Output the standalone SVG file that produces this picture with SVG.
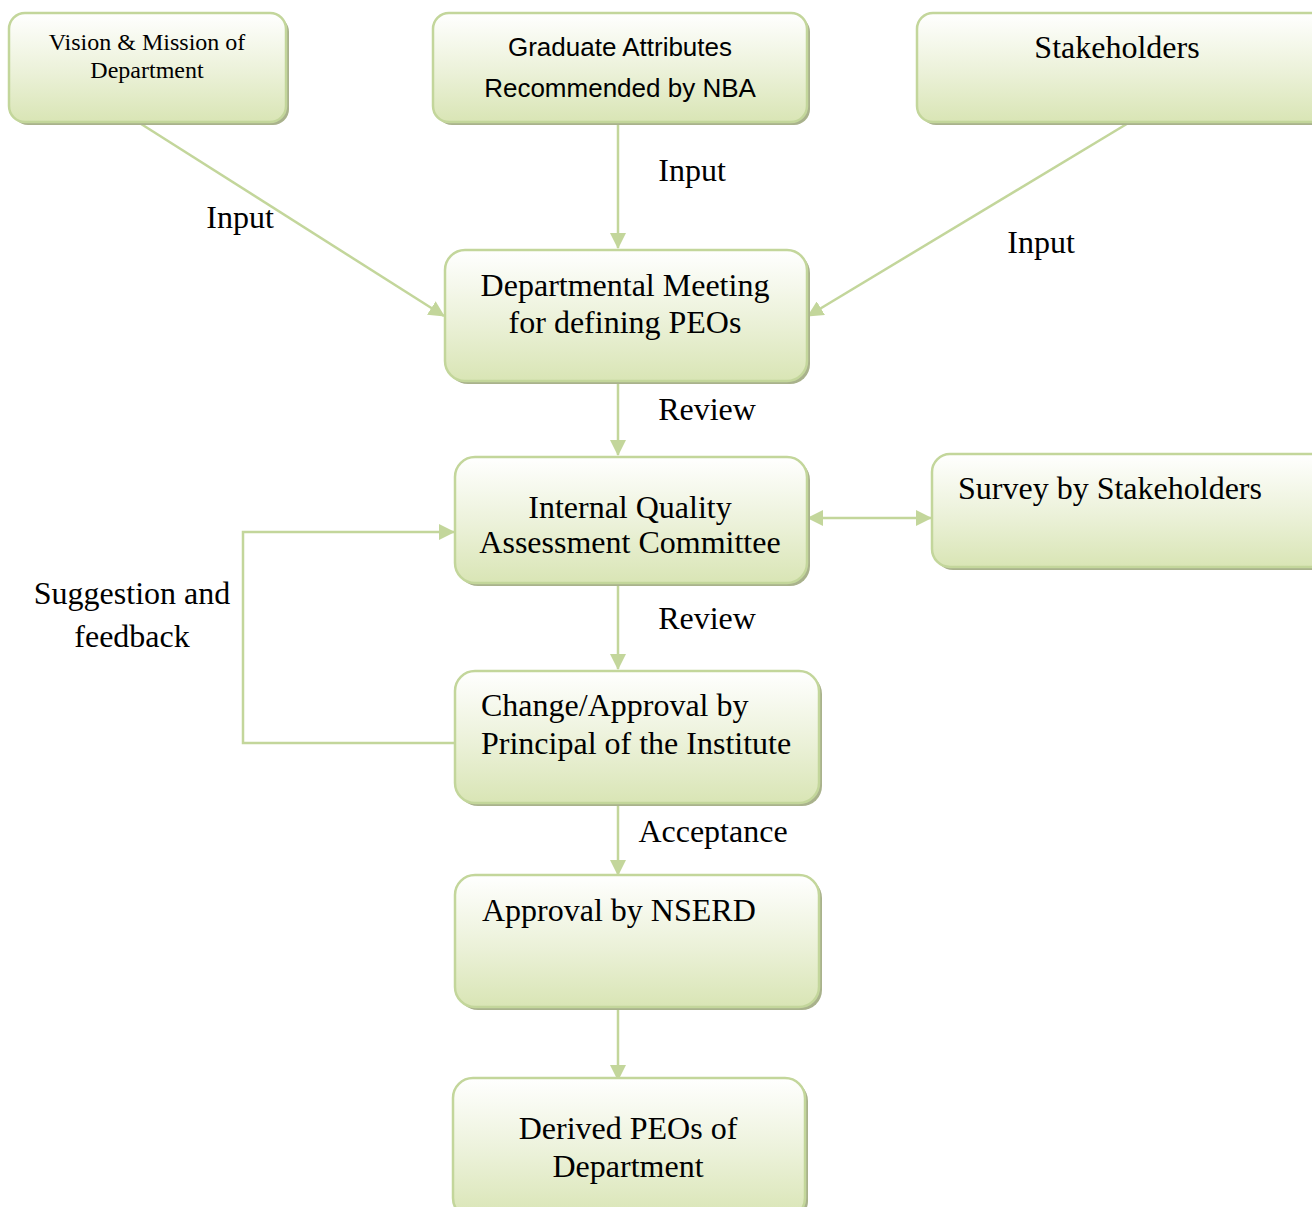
<svg xmlns="http://www.w3.org/2000/svg" width="1312" height="1207" viewBox="0 0 1312 1207">
<defs>
<linearGradient id="g" x1="0" y1="0" x2="0" y2="1">
<stop offset="0" stop-color="#ffffff"/>
<stop offset="0.55" stop-color="#ebf1d8"/>
<stop offset="1" stop-color="#d9e5b5"/>
</linearGradient>
<marker id="ah" markerUnits="userSpaceOnUse" markerWidth="16" markerHeight="16" viewBox="0 0 16 16" refX="15" refY="8" orient="auto-start-reverse">
<path d="M0,0 L16,8 L0,16 Z" fill="#c3d69b"/>
</marker>
<style>
.box{fill:url(#g);stroke:#c3d69b;stroke-width:2.5}
.sh{fill:#a9b28c}
.t{font-family:"Liberation Serif","Times New Roman",serif;font-size:32px;fill:#000}
.ts{font-family:"Liberation Serif","Times New Roman",serif;font-size:24px;fill:#000}
.c{font-family:"Liberation Sans",Arial,sans-serif;font-size:26px;fill:#000}
.m{text-anchor:middle}
.ln{fill:none;stroke:#c3d69b;stroke-width:2.5}
</style>
</defs>
<g id="connectors">
<line class="ln" x1="138" y1="122" x2="444" y2="316" marker-end="url(#ah)"/>
<line class="ln" x1="618" y1="123" x2="618" y2="248" marker-end="url(#ah)"/>
<line class="ln" x1="1130" y1="122" x2="808" y2="316" marker-end="url(#ah)"/>
<line class="ln" x1="618" y1="382" x2="618" y2="455" marker-end="url(#ah)"/>
<line class="ln" x1="808" y1="518" x2="931" y2="518" marker-start="url(#ah)" marker-end="url(#ah)"/>
<line class="ln" x1="618" y1="585" x2="618" y2="669" marker-end="url(#ah)"/>
<line class="ln" x1="618" y1="804" x2="618" y2="875" marker-end="url(#ah)"/>
<line class="ln" x1="618" y1="1008" x2="618" y2="1080" marker-end="url(#ah)"/>
<polyline class="ln" points="455,743 243,743 243,532 454,532" marker-end="url(#ah)"/>
<text class="t m" x="240" y="228">Input</text>
<text class="t m" x="692" y="181">Input</text>
<text class="t m" x="1041" y="253">Input</text>
<text class="t m" x="707" y="420">Review</text>
<text class="t m" x="707" y="629">Review</text>
<text class="t m" x="713" y="842">Acceptance</text>
<text class="t m" x="132" y="604">Suggestion and</text>
<text class="t m" x="132" y="647">feedback</text>
</g>
<g id="n1">
<rect class="sh" x="12" y="16" width="277" height="109" rx="16"/>
<rect class="box" x="9" y="13" width="277" height="109" rx="16"/>
<text class="ts m" x="147" y="50">Vision &amp; Mission of</text>
<text class="ts m" x="147" y="78">Department</text>
</g>
<g id="n2">
<rect class="sh" x="436" y="16" width="374" height="109" rx="16"/>
<rect class="box" x="433" y="13" width="374" height="109" rx="16"/>
<text class="c m" x="620" y="56">Graduate Attributes</text>
<text class="c m" x="620" y="97">Recommended by NBA</text>
</g>
<g id="n3">
<rect class="sh" x="920" y="16" width="420" height="109" rx="16"/>
<rect class="box" x="917" y="13" width="420" height="109" rx="16"/>
<text class="t m" x="1117" y="58">Stakeholders</text>
</g>
<g id="n4">
<rect class="sh" x="448" y="253" width="362" height="131" rx="20"/>
<rect class="box" x="445" y="250" width="362" height="131" rx="20"/>
<text class="t m" x="625" y="296">Departmental Meeting</text>
<text class="t m" x="625" y="333">for defining PEOs</text>
</g>
<g id="n5">
<rect class="sh" x="458" y="460" width="352" height="126" rx="20"/>
<rect class="box" x="455" y="457" width="352" height="126" rx="20"/>
<text class="t m" x="630" y="518">Internal Quality</text>
<text class="t m" x="630" y="553">Assessment Committee</text>
</g>
<g id="n6">
<rect class="sh" x="935" y="457" width="400" height="113" rx="18"/>
<rect class="box" x="932" y="454" width="400" height="113" rx="18"/>
<text class="t" x="958" y="499">Survey by Stakeholders</text>
</g>
<g id="n7">
<rect class="sh" x="458" y="674" width="364" height="132" rx="20"/>
<rect class="box" x="455" y="671" width="364" height="132" rx="20"/>
<text class="t" x="481" y="716">Change/Approval by</text>
<text class="t" x="481" y="754">Principal of the Institute</text>
</g>
<g id="n8">
<rect class="sh" x="458" y="878" width="364" height="132" rx="20"/>
<rect class="box" x="455" y="875" width="364" height="132" rx="20"/>
<text class="t" x="482" y="921">Approval by NSERD</text>
</g>
<g id="n9">
<rect class="sh" x="456" y="1081" width="352" height="140" rx="20"/>
<rect class="box" x="453" y="1078" width="352" height="140" rx="20"/>
<text class="t m" x="628" y="1139">Derived PEOs of</text>
<text class="t m" x="628" y="1177">Department</text>
</g>
</svg>
